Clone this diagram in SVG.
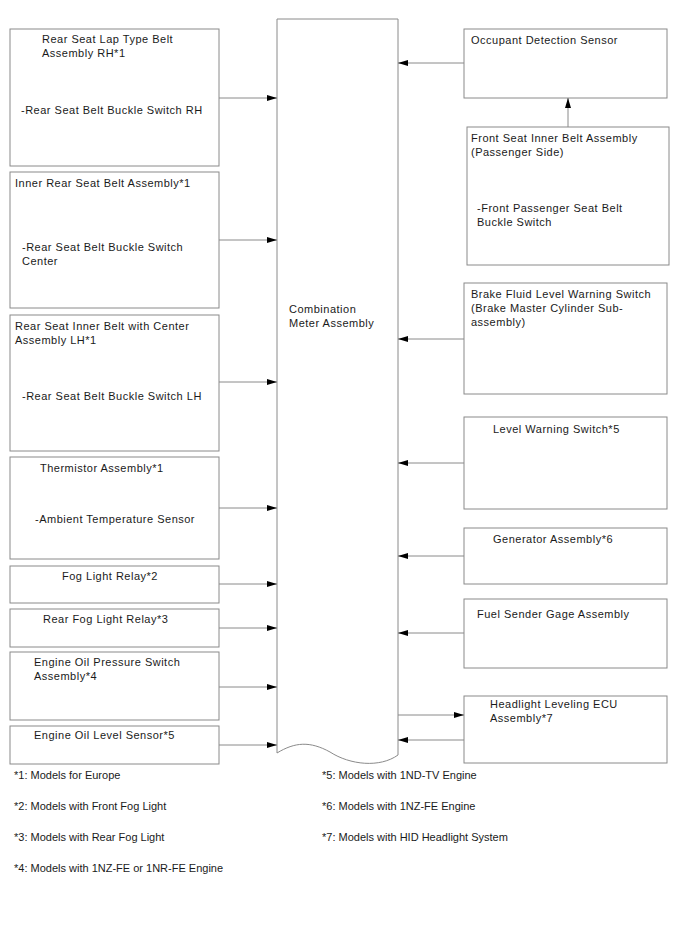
<svg xmlns="http://www.w3.org/2000/svg" width="688" height="949" viewBox="0 0 688 949">
<defs>
<style>
.b{fill:#fff;stroke:#8a8a8a;stroke-width:1}
.t{font-family:"Liberation Sans",Arial,sans-serif;font-size:11px;letter-spacing:0.5px;fill:#1a1a1a}
.f{font-family:"Liberation Sans",Arial,sans-serif;font-size:11px;fill:#1a1a1a}
.c{stroke:#8a8a8a;stroke-width:1;fill:none;marker-end:url(#ah)}
</style>
<marker id="ah" viewBox="0 0 10 6" refX="10" refY="3" markerWidth="10" markerHeight="6" markerUnits="userSpaceOnUse" orient="auto">
<path d="M0,0 L10,3 L0,6 Z" fill="#000"/>
</marker>
</defs>
<rect width="688" height="949" fill="#fff"/>

<g id="combination-meter">
<path class="b" d="M277,19 H398 V755 C380,768 350,765 330,752 C310,741 295,742 277,753 Z"/>
<text class="t" x="289" y="313">Combination</text>
<text class="t" x="289" y="327">Meter Assembly</text>
</g>

<g id="rear-lap-belt-rh">
<rect class="b" x="10" y="29" width="209" height="137"/>
<text class="t" x="42" y="43">Rear Seat Lap Type Belt</text>
<text class="t" x="42" y="57">Assembly RH*1</text>
<text class="t" x="21" y="114">-Rear Seat Belt Buckle Switch RH</text>
</g>
<g id="inner-rear-belt">
<rect class="b" x="10" y="172" width="209" height="136"/>
<text class="t" x="15" y="187">Inner Rear Seat Belt Assembly*1</text>
<text class="t" x="22" y="251">-Rear Seat Belt Buckle Switch</text>
<text class="t" x="22" y="265">Center</text>
</g>
<g id="rear-inner-belt-lh">
<rect class="b" x="10" y="315" width="209" height="136"/>
<text class="t" x="15" y="330">Rear Seat Inner Belt with Center</text>
<text class="t" x="15" y="344">Assembly LH*1</text>
<text class="t" x="22" y="400">-Rear Seat Belt Buckle Switch LH</text>
</g>
<g id="thermistor">
<rect class="b" x="10" y="457" width="209" height="102"/>
<text class="t" x="40" y="472">Thermistor Assembly*1</text>
<text class="t" x="35" y="523">-Ambient Temperature Sensor</text>
</g>
<g id="fog-light-relay">
<rect class="b" x="10" y="566" width="209" height="37"/>
<text class="t" x="62" y="580">Fog Light Relay*2</text>
</g>
<g id="rear-fog-light-relay">
<rect class="b" x="10" y="609" width="209" height="38"/>
<text class="t" x="43" y="623">Rear Fog Light Relay*3</text>
</g>
<g id="oil-pressure-switch">
<rect class="b" x="10" y="652" width="209" height="68"/>
<text class="t" x="34" y="666">Engine Oil Pressure Switch</text>
<text class="t" x="34" y="680">Assembly*4</text>
</g>
<g id="oil-level-sensor">
<rect class="b" x="10" y="726" width="209" height="38"/>
<text class="t" x="34" y="739">Engine Oil Level Sensor*5</text>
</g>

<g id="occupant-sensor">
<rect class="b" x="464" y="29" width="203" height="69"/>
<text class="t" x="471" y="44">Occupant Detection Sensor</text>
</g>
<g id="front-seat-belt">
<rect class="b" x="467" y="127" width="202" height="138"/>
<text class="t" x="471" y="142">Front Seat Inner Belt Assembly</text>
<text class="t" x="471" y="156">(Passenger Side)</text>
<text class="t" x="477" y="212">-Front Passenger Seat Belt</text>
<text class="t" x="477" y="226">Buckle Switch</text>
</g>
<g id="brake-fluid-switch">
<rect class="b" x="464" y="283" width="203" height="111"/>
<text class="t" x="471" y="298">Brake Fluid Level Warning Switch</text>
<text class="t" x="471" y="312">(Brake Master Cylinder Sub-</text>
<text class="t" x="471" y="326">assembly)</text>
</g>
<g id="level-warning-switch">
<rect class="b" x="464" y="417" width="203" height="92"/>
<text class="t" x="493" y="433">Level Warning Switch*5</text>
</g>
<g id="generator">
<rect class="b" x="464" y="528" width="203" height="56"/>
<text class="t" x="493" y="543">Generator Assembly*6</text>
</g>
<g id="fuel-sender">
<rect class="b" x="464" y="599" width="203" height="69"/>
<text class="t" x="477" y="618">Fuel Sender Gage Assembly</text>
</g>
<g id="headlight-ecu">
<rect class="b" x="464" y="696" width="203" height="67"/>
<text class="t" x="490" y="708">Headlight Leveling ECU</text>
<text class="t" x="490" y="722">Assembly*7</text>
</g>

<g id="connectors">
<line class="c" x1="219" y1="98" x2="277" y2="98"/>
<line class="c" x1="219" y1="240" x2="277" y2="240"/>
<line class="c" x1="219" y1="382" x2="277" y2="382"/>
<line class="c" x1="219" y1="508" x2="277" y2="508"/>
<line class="c" x1="219" y1="584" x2="277" y2="584"/>
<line class="c" x1="219" y1="628" x2="277" y2="628"/>
<line class="c" x1="219" y1="687" x2="277" y2="687"/>
<line class="c" x1="219" y1="745" x2="277" y2="745"/>
<line class="c" x1="464" y1="63" x2="398" y2="63"/>
<line class="c" x1="568" y1="127" x2="568" y2="98"/>
<line class="c" x1="464" y1="339" x2="398" y2="339"/>
<line class="c" x1="464" y1="463" x2="398" y2="463"/>
<line class="c" x1="464" y1="556" x2="398" y2="556"/>
<line class="c" x1="464" y1="633" x2="398" y2="633"/>
<line class="c" x1="398" y1="715" x2="464" y2="715"/>
<line class="c" x1="464" y1="740" x2="398" y2="740"/>
</g>

<g id="footnotes">
<text class="f" x="14" y="779">*1: Models for Europe</text>
<text class="f" x="14" y="810">*2: Models with Front Fog Light</text>
<text class="f" x="14" y="841">*3: Models with Rear Fog Light</text>
<text class="f" x="14" y="872">*4: Models with 1NZ-FE or 1NR-FE Engine</text>
<text class="f" x="322" y="779">*5: Models with 1ND-TV Engine</text>
<text class="f" x="322" y="810">*6: Models with 1NZ-FE Engine</text>
<text class="f" x="322" y="841">*7: Models with HID Headlight System</text>
</g>
</svg>
